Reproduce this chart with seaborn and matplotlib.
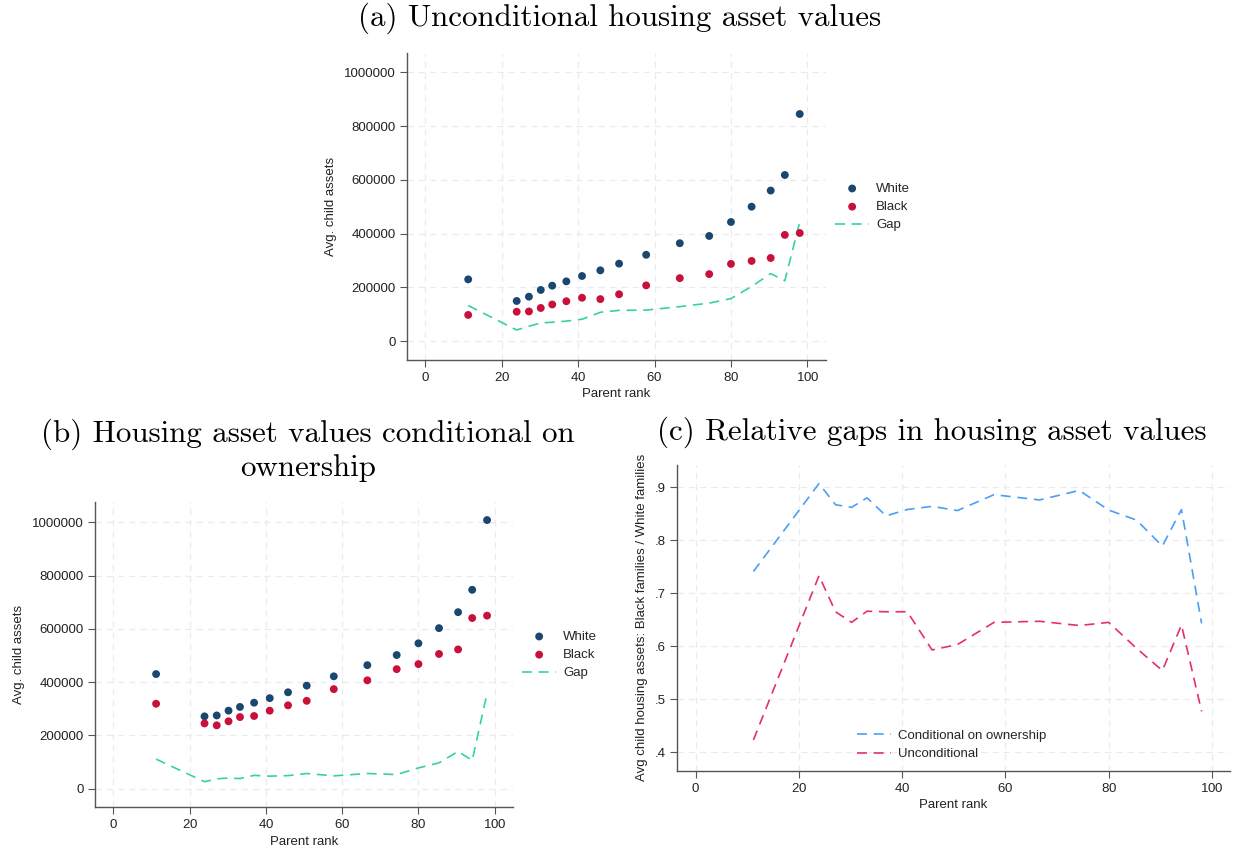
import matplotlib
matplotlib.use("Agg")
import matplotlib.pyplot as plt
import seaborn as sns
import pandas as pd
from matplotlib.ticker import FuncFormatter

# ---------------- data ----------------
parent_rank = [11.2, 23.9, 27.1, 30.2, 33.2, 36.9, 41.0, 45.8, 50.7, 57.8,
               66.6, 74.3, 80.0, 85.4, 90.4, 94.1, 98.0]

# (a) unconditional housing asset values
a_white = [229500, 149000, 165000, 190000, 206000, 222000, 242000, 263000, 288000,
           321000, 364000, 391000, 443000, 500000, 560000, 618000, 845000]
a_black = [97000, 109000, 110000, 123000, 136000, 148000, 161000, 156000, 174000,
           207000, 234000, 249000, 287000, 298000, 309000, 395000, 402000]
a_gap = [132000, 41000, 55000, 67000, 70000, 74000, 81000, 107000, 114000,
         115000, 128000, 141000, 158000, 203000, 251000, 224000, 443000]

# (b) conditional on ownership
b_white = [430500, 271600, 275000, 293000, 307000, 323000, 340000, 362000, 387000,
           422000, 464000, 502000, 546000, 603000, 663000, 747000, 1009000]
b_black = [319000, 245000, 238000, 253000, 269000, 273000, 293000, 313000, 330000,
           374000, 407000, 449000, 468000, 506000, 523000, 641000, 650000]
b_gap = [111000, 26000, 37000, 40000, 38000, 50000, 47000, 49000, 57000,
         48000, 57000, 53000, 78000, 97000, 140000, 106000, 359000]

# (c) relative gaps (Black / White)
c_conditional = [0.741, 0.907, 0.867, 0.862, 0.880, 0.846, 0.858, 0.864, 0.856,
                 0.886, 0.876, 0.894, 0.857, 0.838, 0.789, 0.858, 0.643]
c_unconditional = [0.423, 0.733, 0.665, 0.645, 0.666, 0.665, 0.665, 0.593, 0.603,
                   0.645, 0.647, 0.639, 0.645, 0.596, 0.554, 0.640, 0.477]

titles = ["(a) Unconditional housing asset values",
          "(b) Housing asset values conditional on\nownership",
          "(c) Relative gaps in housing asset values"]

# ---------------- style ----------------
sns.set_theme(style="white")
plt.rcParams["font.family"] = ["Liberation Sans", "DejaVu Sans"]
plt.rcParams["axes.formatter.use_mathtext"] = True

NAVY = "#1a476f"
RED = "#c8103a"
TEAL = "#34d39e"
BLUE = "#4a9ff5"
PINK = "#e3306a"
GRID = "#ebebeb"
SPINE = "#555555"
TXT = "#222222"

W, H = 1233, 848
fig = plt.figure(figsize=(W / 100, H / 100), dpi=100)
fig.patch.set_facecolor("white")


def px_axes(left, top, right, bottom):
    return fig.add_axes([left / W, 1 - bottom / H, (right - left) / W, (bottom - top) / H])


def style_axes(ax, xlim, ylim, yticks, yfmt, ylabel):
    ax.set_xlim(*xlim)
    ax.set_ylim(*ylim)
    ax.set_xticks([0, 20, 40, 60, 80, 100])
    ax.set_yticks(yticks)
    ax.yaxis.set_major_formatter(FuncFormatter(yfmt))
    ax.grid(True, color=GRID, linestyle=(0, (5, 4)), linewidth=0.9)
    ax.set_axisbelow(True)
    for s in ["top", "right"]:
        ax.spines[s].set_visible(False)
    for s in ["left", "bottom"]:
        ax.spines[s].set_color(SPINE)
        ax.spines[s].set_linewidth(1.0)
    ax.tick_params(axis="both", which="major", direction="out", length=5, width=0.8,
                   color=SPINE, labelsize=9.5, labelcolor=TXT, pad=3,
                   left=True, bottom=True)
    ax.set_xlabel("Parent rank", fontsize=9.5, color=TXT, labelpad=3)
    ax.set_ylabel(ylabel, fontsize=9.5, color=TXT, labelpad=5)


def asset_panel(ax, white, black, gap):
    df = pd.DataFrame({"rank": parent_rank, "White": white, "Black": black, "Gap": gap})
    sns.scatterplot(data=df, x="rank", y="White", ax=ax, color=NAVY, s=32,
                    edgecolor="none", label="White", zorder=3)
    sns.scatterplot(data=df, x="rank", y="Black", ax=ax, color=RED, s=32,
                    edgecolor="none", label="Black", zorder=3)
    sns.lineplot(data=df, x="rank", y="Gap", ax=ax, color=TEAL, linewidth=1.2,
                 linestyle=(0, (6, 4)), label="Gap", zorder=2)


intfmt = lambda v, p: f"{int(round(v))}"
decfmt = lambda v, p: f"{v:.1f}".lstrip("0")

LEG = dict(bbox_transform=fig.transFigure, frameon=False, fontsize=9.5,
           handlelength=2.6, handletextpad=0.5, labelspacing=0.45, markerscale=1.0,
           borderpad=0.0, borderaxespad=0.0)

# ---- panel (a)
ax_a = px_axes(406.7, 53.3, 825.7, 360)
asset_panel(ax_a, a_white, a_black, a_gap)
style_axes(ax_a, (-4.9, 104.8), (-70700, 1071000),
           [0, 200000, 400000, 600000, 800000, 1000000], intfmt, "Avg. child assets")
ax_a.legend(loc="center left", bbox_to_anchor=(835 / W, 1 - 207 / H), **LEG)

# ---- panel (b)
ax_b = px_axes(94.7, 501.7, 513, 807.3)
asset_panel(ax_b, b_white, b_black, b_gap)
style_axes(ax_b, (-4.9, 104.8), (-70000, 1078000),
           [0, 200000, 400000, 600000, 800000, 1000000], intfmt, "Avg. child assets")
ax_b.legend(loc="center left", bbox_to_anchor=(522 / W, 1 - 655 / H), **LEG)

# ---- panel (c)
ax_c = px_axes(677, 465, 1230, 770.7)
dfc = pd.DataFrame({"rank": parent_rank, "cond": c_conditional, "uncond": c_unconditional})
sns.lineplot(data=dfc, x="rank", y="cond", ax=ax_c, color=BLUE, linewidth=1.2,
             linestyle=(0, (6, 4)), label="Conditional on ownership")
sns.lineplot(data=dfc, x="rank", y="uncond", ax=ax_c, color=PINK, linewidth=1.2,
             linestyle=(0, (6, 4)), label="Unconditional")
style_axes(ax_c, (-3.6, 103.5), (0.365, 0.942), [0.4, 0.5, 0.6, 0.7, 0.8, 0.9], decfmt,
           "Avg child housing assets: Black families / White families")
ax_c.legend(loc="center left", bbox_to_anchor=(857 / W, 1 - 745 / H), **LEG)

# ---- titles (LaTeX-like serif)
tfont = dict(family="cmr10", size=22.3, color="black")
fig.text(620 / W, 1 - 18 / H, titles[0], ha="center", va="center", **tfont)
fig.text(308 / W, 1 - 450 / H, titles[1], ha="center", va="center",
         linespacing=1.2, **tfont)
fig.text(932 / W, 1 - 432 / H, titles[2], ha="center", va="center", **tfont)

fig.savefig("out.png", dpi=100, facecolor="white")
